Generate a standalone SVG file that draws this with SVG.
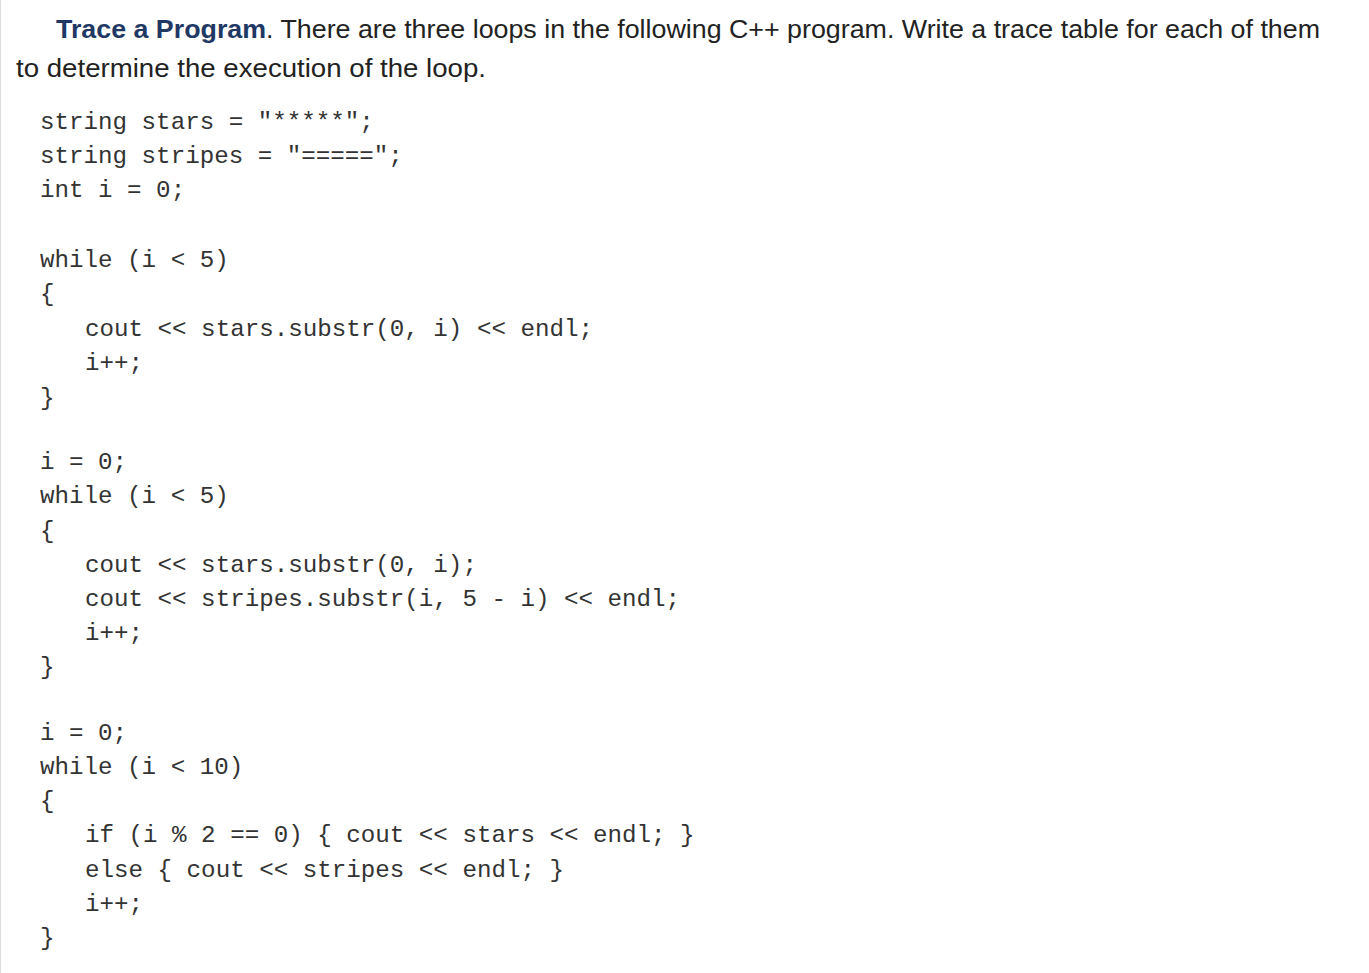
<svg xmlns="http://www.w3.org/2000/svg" width="1369" height="973" viewBox="0 0 1369 973">
<style>
.t{font-family:"Liberation Sans",Arial,sans-serif;font-size:26px;fill:#222}
.b{font-weight:bold;fill:#1f3864}
.c{font-family:"Liberation Mono","DejaVu Sans Mono",monospace;font-size:24.2px;fill:#333;white-space:pre}
</style>
<rect width="1369" height="973" fill="#fff"/>
<line x1="0.5" y1="0" x2="0.5" y2="973" stroke="#ddd"/>
<text class="t" x="56" y="38" textLength="1264" lengthAdjust="spacingAndGlyphs"><tspan class="b">Trace a Program</tspan>. There are three loops in the following C++ program. Write a trace table for each of them</text>
<text class="t" x="16" y="77" textLength="470" lengthAdjust="spacingAndGlyphs">to determine the execution of the loop.</text>
<g class="c" xml:space="preserve">
<text class="c" x="40" y="129">string stars = "*****";</text>
<text class="c" x="40" y="163">string stripes = "=====";</text>
<text class="c" x="40" y="197">int i = 0;</text>
<text class="c" x="40" y="267">while (i &lt; 5)</text>
<text class="c" x="40" y="301">{</text>
<text class="c" x="85" y="336">cout &lt;&lt; stars.substr(0, i) &lt;&lt; endl;</text>
<text class="c" x="85" y="370">i++;</text>
<text class="c" x="40" y="405">}</text>
<text class="c" x="40" y="469">i = 0;</text>
<text class="c" x="40" y="503">while (i &lt; 5)</text>
<text class="c" x="40" y="538">{</text>
<text class="c" x="85" y="572">cout &lt;&lt; stars.substr(0, i);</text>
<text class="c" x="85" y="606">cout &lt;&lt; stripes.substr(i, 5 - i) &lt;&lt; endl;</text>
<text class="c" x="85" y="640">i++;</text>
<text class="c" x="40" y="674">}</text>
<text class="c" x="40" y="740">i = 0;</text>
<text class="c" x="40" y="774">while (i &lt; 10)</text>
<text class="c" x="40" y="808">{</text>
<text class="c" x="85" y="842">if (i % 2 == 0) { cout &lt;&lt; stars &lt;&lt; endl; }</text>
<text class="c" x="85" y="877">else { cout &lt;&lt; stripes &lt;&lt; endl; }</text>
<text class="c" x="85" y="911">i++;</text>
<text class="c" x="40" y="945">}</text>
</g>
</svg>
